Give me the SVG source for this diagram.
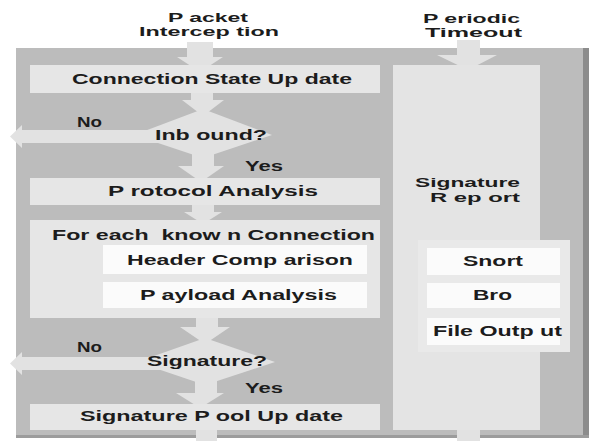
<svg xmlns="http://www.w3.org/2000/svg" width="592" height="441" viewBox="0 0 592 441">
<style>
.t{font-family:"Liberation Sans",Arial,sans-serif;font-weight:bold;font-size:14px;fill:#1c1c1c;white-space:pre}
.s{font-size:12.5px}
.box{fill:#e6e6e6}
.wbox{fill:#fbfbfb}
.flow{fill:#e2e2e2}
</style>
<rect x="0" y="0" width="592" height="441" fill="#ffffff"/>
<g id="panel">
<rect x="16" y="48" width="569" height="389" fill="#bcbcbc"/>
<rect x="583" y="48" width="6" height="389" fill="#8c8c8c"/>
<rect x="16" y="435" width="573" height="3" fill="#9c9c9c"/>
</g>
<g id="connectors">
<polygon class="flow" points="187,42 213,42 213,57 223,57 200,72 177,57 187,57"/>
<polygon class="flow" points="191,93 213,93 213,100 224,100 203,116 182,100 191,100"/>
<polygon class="flow" points="203,109 272,135 203,158 134,135"/>
<polygon class="flow" points="10,136.5 22,125 22,130 180,130 180,143 22,143 22,148"/>
<polygon class="flow" points="192,150 214,150 214,166 224,166 201,182 178,166 192,166"/>
<polygon class="flow" points="192,205 214,205 214,212 222,212 203,224 184,212 192,212"/>
<polygon class="flow" points="196,318 218,318 218,327 230,327 205,344 180,327 196,327"/>
<polygon class="flow" points="205,338 275,362 205,385 137,362"/>
<polygon class="flow" points="10,363.5 22,352 22,357 180,357 180,370 22,370 22,375"/>
<polygon class="flow" points="195,378 217,378 217,393 224,393 200,408 176,393 195,393"/>
<rect class="flow" x="196" y="430" width="21" height="11"/>
<polygon class="flow" points="457,40 480,40 480,55 497,55 468,70 437,55 457,55"/>
<rect class="flow" x="457" y="430" width="23" height="11"/>
</g>
<g id="packet-interception">
<text class="t s" x="168" y="22" textLength="80" lengthAdjust="spacingAndGlyphs">P acket</text>
<text class="t s" x="139" y="36" textLength="140" lengthAdjust="spacingAndGlyphs">Intercep tion</text>
</g>
<g id="periodic-timeout">
<text class="t s" x="423" y="23" textLength="97" lengthAdjust="spacingAndGlyphs">P eriodic</text>
<text class="t s" x="425" y="37" textLength="97" lengthAdjust="spacingAndGlyphs">Timeout</text>
</g>
<g id="connection-state-update">
<rect class="box" x="30" y="65" width="350" height="28"/>
<text class="t" x="72" y="84" textLength="280" lengthAdjust="spacingAndGlyphs">Connection State Up date</text>
</g>
<g id="inbound">
<text class="t" x="155" y="140" textLength="112" lengthAdjust="spacingAndGlyphs">Inb ound?</text>
<text class="t" x="77" y="127" textLength="25" lengthAdjust="spacingAndGlyphs">No</text>
<text class="t" x="245" y="171" textLength="38" lengthAdjust="spacingAndGlyphs">Yes</text>
</g>
<g id="protocol-analysis">
<rect class="box" x="30" y="178" width="350" height="27"/>
<text class="t" x="108" y="196" textLength="210" lengthAdjust="spacingAndGlyphs">P rotocol Analysis</text>
</g>
<g id="for-each-connection">
<rect class="box" x="30" y="220" width="350" height="98"/>
<text class="t" x="52" y="240" textLength="323" lengthAdjust="spacingAndGlyphs" xml:space="preserve">For each  know n Connection</text>
</g>
<g id="header-comparison">
<rect class="wbox" x="103" y="245" width="264" height="29"/>
<text class="t" x="127" y="265" textLength="226" lengthAdjust="spacingAndGlyphs">Header Comp arison</text>
</g>
<g id="payload-analysis">
<rect class="wbox" x="103" y="282" width="264" height="26"/>
<text class="t" x="140" y="300" textLength="197" lengthAdjust="spacingAndGlyphs">P ayload Analysis</text>
</g>
<g id="signature-decision">
<text class="t" x="147" y="366" textLength="120" lengthAdjust="spacingAndGlyphs">Signature?</text>
<text class="t" x="77" y="352" textLength="25" lengthAdjust="spacingAndGlyphs">No</text>
<text class="t" x="245" y="393" textLength="38" lengthAdjust="spacingAndGlyphs">Yes</text>
</g>
<g id="signature-pool-update">
<rect class="box" x="30" y="404" width="350" height="26"/>
<text class="t" x="80" y="421" textLength="263" lengthAdjust="spacingAndGlyphs">Signature P ool Up date</text>
</g>
<g id="signature-report">
<rect x="393" y="65" width="147" height="365" fill="#e4e4e4"/>
<text class="t s" x="415" y="187" textLength="105" lengthAdjust="spacingAndGlyphs">Signature</text>
<text class="t s" x="430" y="202" textLength="90" lengthAdjust="spacingAndGlyphs">R ep ort</text>
</g>
<g id="outputs">
<rect x="418" y="240" width="152" height="112" fill="#e9e9e9"/>
</g>
<g id="snort">
<rect class="wbox" x="427" y="248" width="133" height="27"/>
<text class="t" x="463" y="266" textLength="60" lengthAdjust="spacingAndGlyphs">Snort</text>
</g>
<g id="bro">
<rect class="wbox" x="427" y="283" width="133" height="25"/>
<text class="t" x="473" y="300" textLength="39" lengthAdjust="spacingAndGlyphs">Bro</text>
</g>
<g id="file-output">
<rect class="wbox" x="427" y="318" width="133" height="27"/>
<text class="t" x="433" y="336" textLength="129" lengthAdjust="spacingAndGlyphs">File Outp ut</text>
</g>
</svg>
